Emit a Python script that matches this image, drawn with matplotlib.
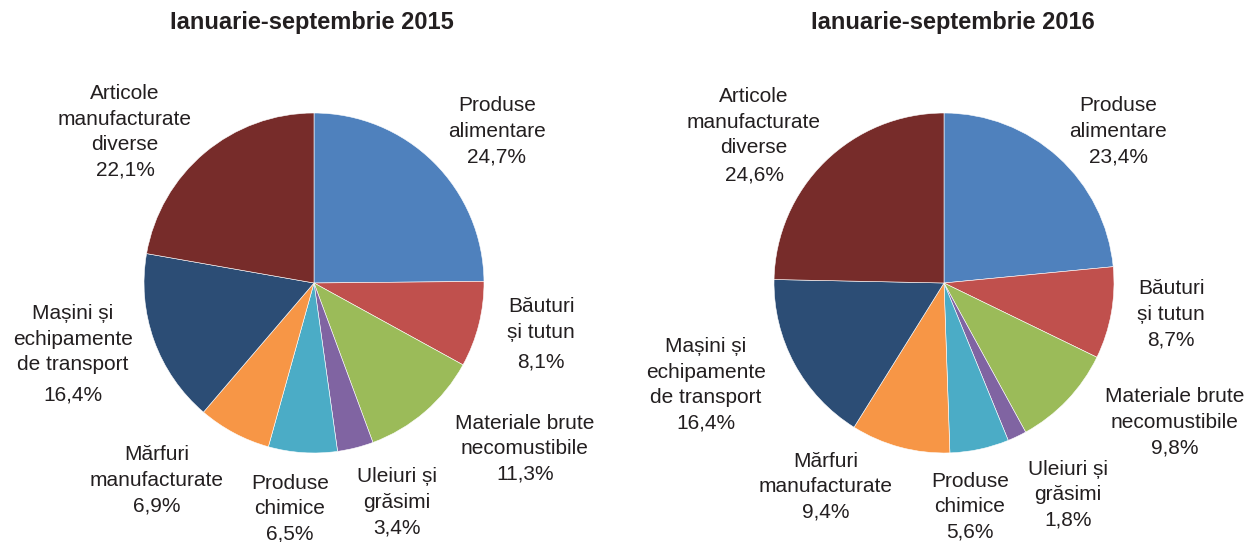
import matplotlib.pyplot as plt

plt.rcParams["font.family"] = ["Liberation Sans", "DejaVu Sans"]

# data
categories = [
    "Produse\nalimentare",
    "Băuturi\nși tutun",
    "Materiale brute\nnecomustibile",
    "Uleiuri și\ngrăsimi",
    "Produse\nchimice",
    "Mărfuri\nmanufacturate",
    "Mașini și\nechipamente\nde transport",
    "Articole\nmanufacturate\ndiverse",
]
values_2015 = [24.7, 8.1, 11.3, 3.4, 6.5, 6.9, 16.4, 22.1]
values_2016 = [23.4, 8.7, 9.8, 1.8, 5.6, 9.4, 16.4, 24.6]
titles = ["Ianuarie-septembrie 2015", "Ianuarie-septembrie 2016"]

colors = ["#4F81BD", "#C0504D", "#9BBB59", "#8064A2",
          "#4BACC6", "#F79646", "#2C4D75", "#772C2A"]
text_color = "#231F20"

# label layout, pixels from pie centre: (dx, dy of first line, extra gap before %)
label_pos_2015 = [(183, -179, 0), (227, 22, 4), (211, 139, 0), (83, 192, 0),
                  (-24, 199, 0), (-157, 170, 0), (-241, 29, 5), (-189, -191, 0)]
label_pos_2016 = [(174, -179, 0), (227, 4, 0), (231, 112, 0), (124, 185, 0),
                  (26, 197, 0), (-118, 177, 0), (-238, 62, 0), (-190, -188, 2)]

R = 170.0    # pie radius in px
LINE = 25.5  # line step in px
W, H = 1252, 542

fig = plt.figure(figsize=(W / 100, H / 100), dpi=100)

centres = [(314, 283), (944, 283)]
title_x = [312, 953]

for i, (vals, pos) in enumerate([(values_2015, label_pos_2015),
                                  (values_2016, label_pos_2016)]):
    x0 = i * W / 2
    ax = fig.add_axes([i * 0.5, 0, 0.5, 1])
    cx, cy = centres[i]
    ax.pie(vals, colors=colors, startangle=90, counterclock=False,
           radius=1, center=(0, 0),
           wedgeprops=dict(edgecolor="white", linewidth=0.4))
    ax.set_xlim(-(cx - x0) / R, (x0 + W / 2 - cx) / R)
    ax.set_ylim(-(H - cy) / R, cy / R)
    ax.set_aspect("auto")
    ax.axis("off")
    for cat, v, (dx, dy, gap) in zip(categories, vals, pos):
        lines = cat.split("\n") + [f"{v:.1f}%".replace(".", ",")]
        for k, line in enumerate(lines):
            y = dy + k * LINE + (gap if k == len(lines) - 1 else 0) + 7
            ax.text(dx / R, -y / R, line, ha="center", va="baseline",
                    fontsize=15, color=text_color)
    fig.text(title_x[i] / W, 1 - 22 / H, titles[i], ha="center", va="center",
             fontsize=17, fontweight="bold", color=text_color)

fig.savefig("out.png", dpi=100)
